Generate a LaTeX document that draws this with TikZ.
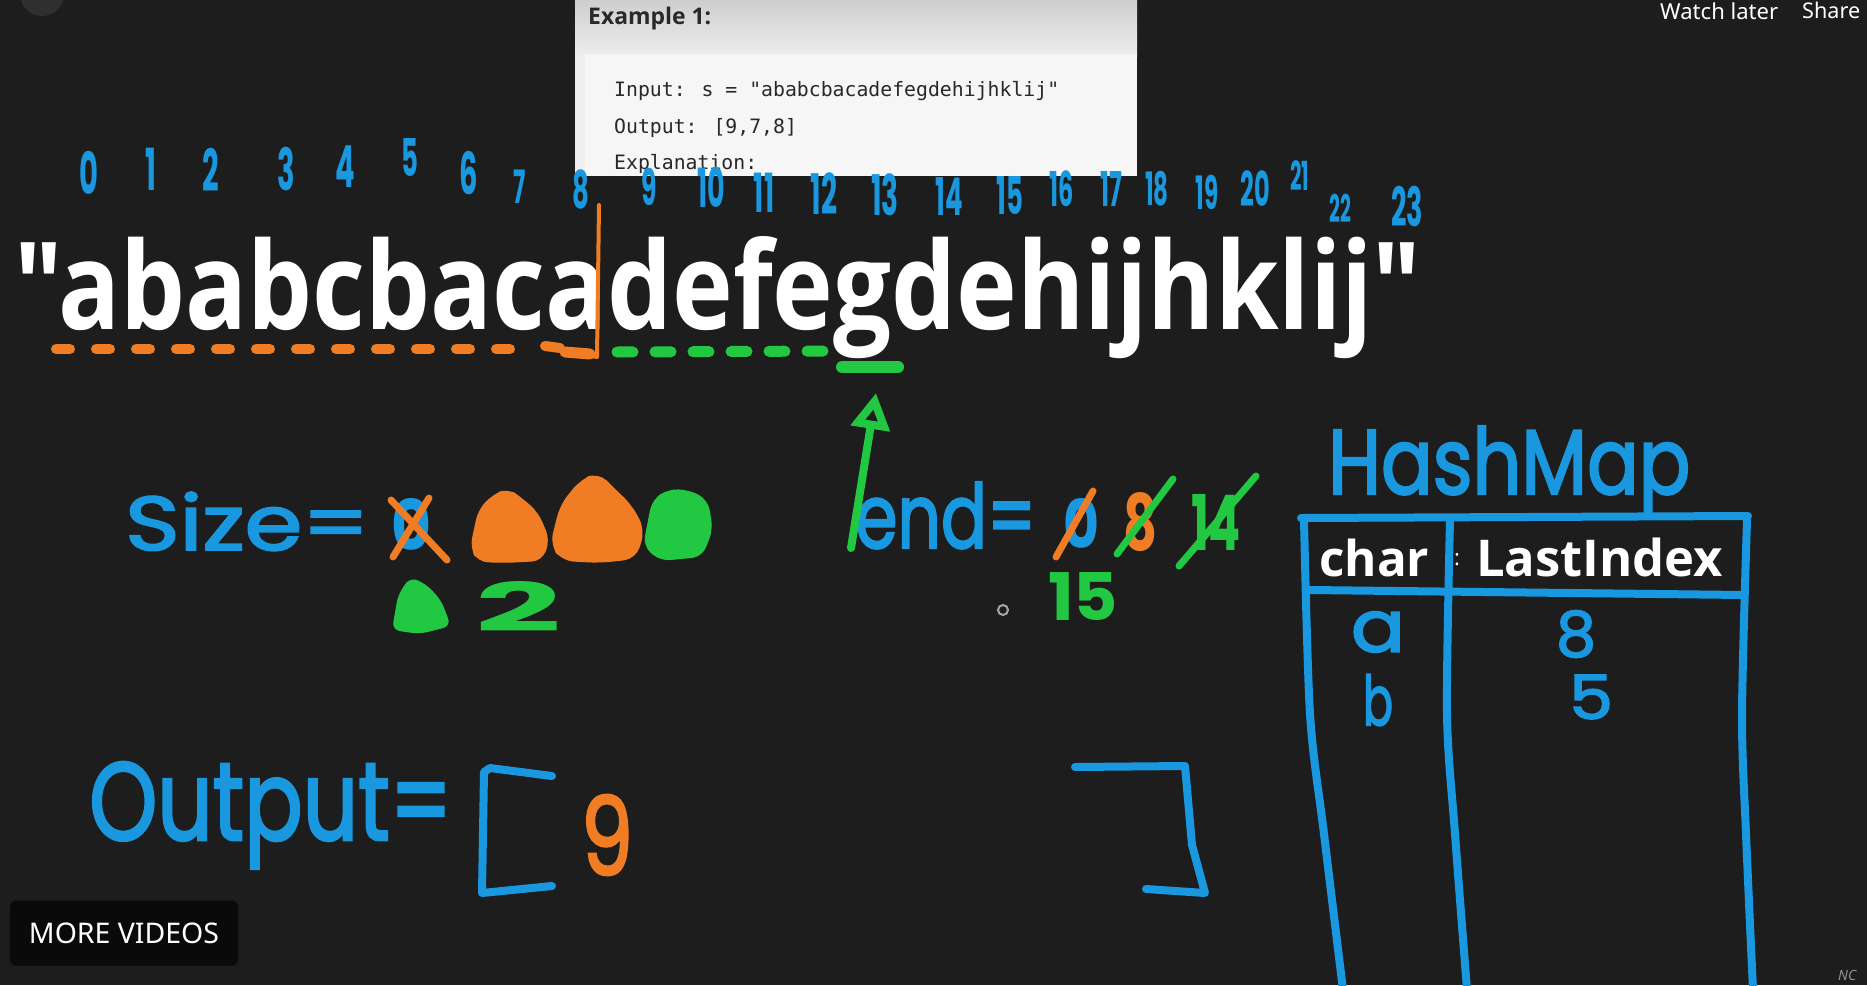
\documentclass[tikz,border=0pt]{standalone}
\usepackage{fontspec}
\usepackage{graphicx}
\setmainfont{Open Sans}
\newfontfamily\hand[FakeBold=2.5]{Poppins}
\newfontfamily\handb{Poppins}
\newfontfamily\ui{Open Sans}
\newfontfamily\mono{DejaVu Sans Mono}
\newfontfamily\yt{Noto Sans}
\usetikzlibrary{arrows.meta,calc}
\definecolor{bg}{RGB}{29,29,29}
\definecolor{mblue}{RGB}{25,152,224}
\definecolor{morange}{RGB}{240,125,35}
\definecolor{mgreen}{RGB}{34,200,66}
\definecolor{boxtop}{RGB}{206,206,206}
\definecolor{boxbot}{RGB}{238,238,238}
\definecolor{panel}{RGB}{246,246,246}
\definecolor{codetxt}{RGB}{40,40,40}
\tikzset{
  bstroke/.style={draw=mblue, line width=8pt, line cap=round, line join=round},
  ostroke/.style={draw=morange, line width=8pt, line cap=round, line join=round},
  gstroke/.style={draw=mgreen, line width=8pt, line cap=round, line join=round},
  hw/.style={inner sep=0pt, anchor=base west},
  hwc/.style={inner sep=0pt, anchor=center},
  num/.style={inner sep=0pt, anchor=center, text=mblue},
}
\begin{document}
\begin{tikzpicture}[x=1pt,y=-1pt]
\useasboundingbox (0,0) rectangle (1867,985);
\fill[bg] (0,0) rectangle (1867,985);
\clip (0,0) rectangle (1867,985);
% faint avatar circle top-left
\fill[white!8!bg] (42,-6) circle (22);
% example box
\fill[boxbot] (575,0) rectangle (1137,176);
\shade[top color=boxtop, bottom color=boxbot] (575,0) rectangle (1137,56);
\fill[panel] (585,54) rectangle (1137,176);
\node[hw, text=codetxt] (ex) at (588,24) {\resizebox{123pt}{!}{\ui\bfseries Example 1:}};
\node[hw, text=codetxt] (inp) at (614,96) {\mono\fontsize{19.8}{20}\selectfont Input: s = "ababcbacadefegdehijhklij"};
\node[hw, text=codetxt] (outp) at (614,133) {\mono\fontsize{19.8}{20}\selectfont Output: [9,7,8]};
\node[hw, text=codetxt] (expl) at (614,169) {\mono\fontsize{19.8}{20}\selectfont Explanation:};
% top right
\node[hw, text=white!88] (wl) at (1660,19) {\resizebox{118pt}{!}{\yt\bfseries Watch later}};
\node[hw, text=white!88] (sh) at (1802,19) {\resizebox{58pt}{!}{\yt\bfseries Share}};
% index numbers
\foreach \x/\y/\t/\s [count=\i] in {89/173/0/58, 151/169/1/58, 211/170/2/58, 286/169/3/58, 345/167/4/58, 410/157/5/52, 469/173/6/58, 520/187/7/46, 581/189/8/52, 649/187/9/50, 711/187/10/54, 764/193/11/54, 824/194/12/56, 885/195/13/56, 949/197/14/52, 1010/195/15/52, 1062/189/16/48, 1111/189/17/48, 1157/189/18/46, 1207/192/19/46, 1255/189/20/48, 1300/176/21/40, 1340/208/22/38, 1407/206/23/54}
  \node[num, font=\handb\bfseries\fontsize{\s}{\s}\selectfont] (n\i) at (\x,\y) {\scalebox{0.5}[1]{\t}};
% big string
\node[hw, text=white] (str) at (14,329) {\resizebox{1406pt}{93pt}{\ui\bfseries "ababcbacadefegdehijhklij"}};
% orange partition
\coordinate (ptop) at (599,205);
\coordinate (pbot) at (597,357);
\draw[ostroke, line width=10pt, dash pattern=on 14pt off 26pt] (56,349) -- (530,349);
\draw[ostroke, line width=10pt] (545,346) -- (560,348);
\draw[ostroke, line width=4pt] (ptop) -- (pbot) -- (572,353);
\draw[ostroke, line width=11pt] (565,352) -- (590,354);
% green underline
\draw[gstroke, line width=11pt, dash pattern=on 16pt off 22pt] (617,352) -- (835,351);
\draw[gstroke, line width=12pt] (842,367) -- (898,367);
% Size
\node[hw, text=mblue] (size) at (125,550) {\resizebox{244pt}{58pt}{\hand Size=}};
\node[hwc, text=mblue] (size0) at (411,524) {\resizebox{40pt}{52pt}{\handb\bfseries 0}};
\draw[ostroke, line width=7pt] (391,500) -- (447,560);
\draw[ostroke, line width=7pt] (429,498) -- (393,557);
\fill[morange, rounded corners=10pt] (470,548) -- (478,510) -- (492,495) -- (508,488) -- (522,498) -- (538,512) -- (550,540) -- (542,561) -- (505,563) -- (478,562) -- cycle;
\fill[morange, rounded corners=12pt] (550,545) -- (560,505) -- (580,480) -- (598,472) -- (614,488) -- (632,505) -- (645,530) -- (636,559) -- (600,563) -- (562,561) -- cycle;
\fill[mgreen, rounded corners=10pt] (643,546) -- (652,500) -- (668,489) -- (690,490) -- (708,500) -- (713,530) -- (702,557) -- (660,561) -- cycle;
\fill[mgreen, rounded corners=8pt] (392,630) -- (398,595) -- (410,577) -- (426,584) -- (441,600) -- (451,626) -- (420,634) -- cycle;
\node[hwc, text=mgreen] (two) at (519,606) {\resizebox{86pt}{50pt}{\handb\bfseries 2}};
% end
\node[hw, text=mblue] (endl) at (855,548) {\resizebox{181pt}{66pt}{\hand end=}};
\coordinate (gtip) at (876,393);
\draw[gstroke, -{Triangle[open, length=36pt, width=38pt]}] ([xshift=-4pt]endl.base west) -- (gtip);
\node[hwc, text=mblue] (end0) at (1081,523) {\resizebox{36pt}{50pt}{\handb\bfseries 0}};
\draw[ostroke, line width=7pt] (1056,557) -- (1093,491);
\node[hwc, text=morange] (end8) at (1140,522) {\resizebox{34pt}{58pt}{\handb\bfseries 8}};
\draw[gstroke, line width=7pt] (1117,554) -- (1173,479);
\node[hwc, text=mgreen] (end14) at (1216,522) {\resizebox{50pt}{56pt}{\handb\bfseries 14}};
\draw[gstroke, line width=7pt] (1179,566) -- (1256,476);
\node[hwc, text=mgreen] (end15) at (1083,596) {\resizebox{70pt}{48pt}{\handb\bfseries 15}};
\draw[gray!70, line width=2pt] (1003,610) circle (5);
% HashMap
\node[hw, text=mblue] (hm) at (1328,494) {\resizebox{362pt}{68pt}{\hand HashMap}};
\draw[bstroke] (1301,518) -- (1748,516);
\draw[bstroke] (1310,590) -- (1744,595);
\draw[bstroke] plot[smooth] coordinates {(1304,520) (1310,714) (1324,834) (1343,990)};
\draw[bstroke] plot[smooth] coordinates {(1450,520) (1447,714) (1455,834) (1467,990)};
\draw[bstroke] plot[smooth] coordinates {(1747,520) (1742,714) (1746,834) (1753,990)};
\node[hw, text=white] (hchar) at (1319,576) {\resizebox{110pt}{!}{\ui\bfseries char}};
\node[hw, text=white] (hidx) at (1476,576) {\resizebox{247pt}{!}{\ui\bfseries LastIndex}};
\node[hwc, text=white!85] (hcolon) at (1457,560) {\ui\fontsize{22}{22}\selectfont :};
\node[hwc, text=mblue] (ra) at (1378,632) {\resizebox{54pt}{40pt}{\hand a}};
\node[hwc, text=mblue] (r8) at (1576,634) {\resizebox{40pt}{46pt}{\hand 8}};
\node[hwc, text=mblue] (rb) at (1378,700) {\resizebox{30pt}{51pt}{\hand b}};
\node[hwc, text=mblue] (r5) at (1591,697) {\resizebox{44pt}{44pt}{\hand 5}};
% Output
\node[hw, text=mblue] (outl) at (89,840) {\resizebox{363pt}{78pt}{\hand Output=}};
\draw[bstroke] (552,776) -- (490,768) -- (484,772) -- (482,893) -- (552,886);
\node[hwc, text=morange] (nine) at (607,835) {\resizebox{52pt}{80pt}{\hand 9}};
\draw[bstroke] (1075,767) -- (1185,766) -- (1192,845) -- (1205,893) -- (1146,889);
% more videos
\node[fill=black!96, rounded corners=6pt, minimum width=228pt, minimum height=65pt, inner sep=0pt, text=white!92] (more) at (124,933) {\resizebox{190pt}{!}{\yt MORE VIDEOS}};
\node[hw, text=gray!80, font=\itshape\fontsize{14}{14}\selectfont] (nc) at (1838,980) {NC};
\end{tikzpicture}
\end{document}
